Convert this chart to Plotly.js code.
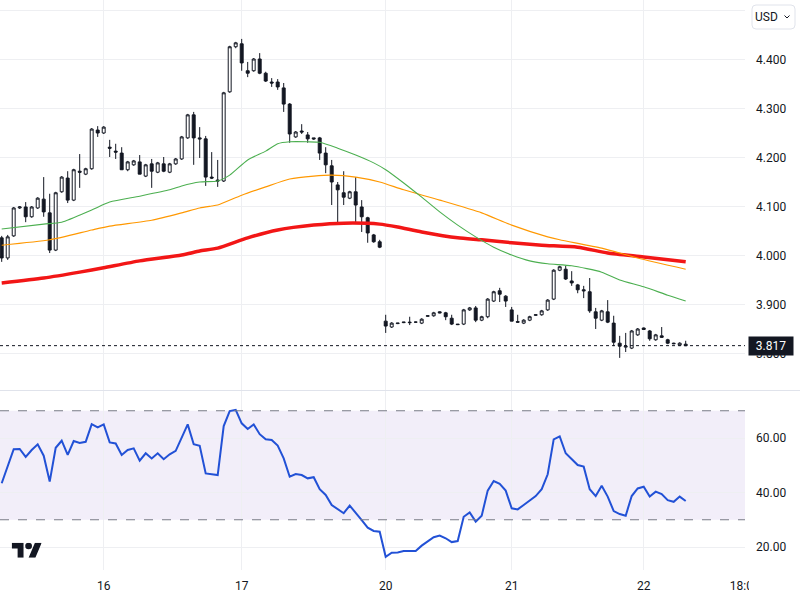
<!DOCTYPE html>
<html><head><meta charset="utf-8">
<script src="https://cdn.plot.ly/plotly-3.0.1.min.js"></script>
<style>html,body{margin:0;padding:0;background:#fff}#chart{width:800px;height:600px}</style>
</head><body><div id="chart"></div>
<script>
// ---- DATA (hourly bars) ----
const barOpen = [4.037,3.996,4.041,4.098,4.100,4.080,4.098,4.116,4.088,4.012,
4.131,4.159,4.114,4.173,4.167,4.178,4.257,4.251,4.222,4.214,
4.210,4.176,4.186,4.192,4.163,4.188,4.171,4.188,4.171,4.188,
4.198,4.241,4.288,4.241,4.239,4.161,4.155,4.153,4.335,4.427,
4.433,4.378,4.378,4.402,4.373,4.355,4.355,4.343,4.310,4.243,
4.255,4.247,4.241,4.241,4.210,4.184,4.145,4.129,4.118,4.131,
4.100,4.078,4.043,4.029,3.867,3.855,3.862,3.864,3.865,3.865,
3.863,3.877,3.878,3.886,3.884,3.873,3.861,3.861,3.890,3.894,
3.869,3.876,3.908,3.929,3.918,3.890,3.866,3.863,3.869,3.879,
3.880,3.890,3.912,3.971,3.973,3.949,3.941,3.931,3.927,3.886,
3.869,3.886,3.863,3.822,3.814,3.812,3.839,3.853,3.847,3.829,
3.837,3.829,3.822,3.818,3.820];
const barHigh = [4.041,4.043,4.100,4.102,4.110,4.102,4.120,4.161,4.127,4.131,
4.163,4.173,4.178,4.208,4.180,4.261,4.265,4.265,4.237,4.229,
4.222,4.194,4.196,4.206,4.188,4.198,4.192,4.202,4.190,4.200,
4.245,4.290,4.294,4.263,4.245,4.212,4.196,4.335,4.429,4.437,
4.443,4.396,4.404,4.414,4.376,4.363,4.361,4.353,4.312,4.255,
4.269,4.253,4.241,4.243,4.222,4.196,4.151,4.173,4.133,4.161,
4.114,4.080,4.045,4.033,3.880,3.865,3.863,3.865,3.876,3.866,
3.873,3.878,3.886,3.887,3.886,3.880,3.861,3.892,3.896,3.898,
3.878,3.914,3.929,3.935,3.920,3.896,3.880,3.871,3.878,3.880,
3.890,3.912,3.973,3.980,3.980,3.969,3.943,3.939,3.955,3.894,
3.890,3.910,3.878,3.837,3.843,3.849,3.853,3.854,3.849,3.841,
3.855,3.831,3.823,3.824,3.827];
const barLow = [3.988,3.992,4.039,4.096,4.069,4.078,4.096,4.080,4.006,4.010,
4.129,4.108,4.112,4.139,4.165,4.176,4.243,4.249,4.202,4.198,
4.176,4.173,4.184,4.167,4.161,4.139,4.169,4.171,4.169,4.186,
4.196,4.239,4.186,4.200,4.143,4.157,4.141,4.151,4.333,4.424,
4.378,4.365,4.376,4.371,4.355,4.345,4.339,4.294,4.231,4.241,
4.249,4.231,4.237,4.196,4.169,4.104,4.065,4.104,4.116,4.067,
4.049,4.027,4.027,4.016,3.843,3.853,3.861,3.863,3.859,3.864,
3.861,3.876,3.876,3.883,3.869,3.859,3.859,3.859,3.888,3.865,
3.867,3.873,3.906,3.906,3.896,3.867,3.864,3.861,3.867,3.878,
3.878,3.888,3.910,3.969,3.951,3.939,3.924,3.914,3.884,3.851,
3.867,3.863,3.816,3.792,3.804,3.810,3.837,3.849,3.827,3.827,
3.833,3.820,3.820,3.816,3.816];
const barClose = [3.996,4.039,4.098,4.100,4.080,4.100,4.118,4.090,4.012,4.129,
4.161,4.114,4.176,4.171,4.178,4.259,4.251,4.263,4.220,4.212,
4.176,4.192,4.194,4.167,4.186,4.173,4.190,4.173,4.188,4.198,
4.243,4.288,4.241,4.239,4.161,4.159,4.153,4.333,4.427,4.435,
4.394,4.373,4.402,4.373,4.357,4.353,4.345,4.310,4.249,4.253,
4.253,4.239,4.239,4.210,4.186,4.151,4.135,4.120,4.131,4.104,
4.080,4.047,4.029,4.018,3.857,3.863,3.863,3.865,3.864,3.865,
3.871,3.878,3.884,3.884,3.876,3.861,3.860,3.890,3.894,3.869,
3.876,3.912,3.927,3.922,3.908,3.867,3.865,3.869,3.876,3.880,
3.888,3.910,3.971,3.978,3.953,3.945,3.931,3.929,3.888,3.873,
3.888,3.865,3.824,3.816,3.816,3.847,3.851,3.850,3.831,3.839,
3.834,3.822,3.821,3.822,3.817];
const rsiValues = [43.4,49.5,55.9,56.0,53.1,55.6,57.7,53.5,44.0,56.4,
59.0,53.8,58.9,58.2,58.6,65.1,63.9,65.0,58.4,58.0,
53.8,55.6,56.2,51.7,54.4,52.5,54.4,52.2,54.0,55.3,
60.5,65.0,57.7,57.1,47.0,46.7,46.4,64.4,69.9,70.3,
65.4,63.3,65.0,61.4,59.5,59.3,57.2,52.5,45.8,46.8,
46.4,45.2,45.6,41.2,39.1,35.4,33.9,32.4,35.2,32.7,
29.9,27.1,25.9,25.6,16.4,17.9,18.0,18.5,18.5,18.5,
20.5,22.0,23.6,24.2,23.2,21.8,22.2,31.1,32.7,29.3,
31.5,40.7,44.2,43.2,40.7,34.2,33.8,35.4,37.1,38.7,
41.2,46.7,59.5,60.6,54.4,52.3,50.1,49.5,41.2,38.7,
42.5,38.5,33.2,32.1,31.5,38.7,41.5,42.1,38.5,40.3,
39.4,37.2,36.6,38.5,36.9];
// moving averages (bar index, value) read at selected bars
const greenBars = [0,7,10,15,18,23,28,30,33,36,38,41,44,46,48,51,53,56,59,62,64,67,70,73,76,79,82,85,88,91,95,100,103,107,111,114];
const greenMA = [4.055,4.065,4.069,4.094,4.110,4.122,4.135,4.143,4.151,4.153,4.165,4.196,4.214,4.229,4.233,4.233,4.232,4.220,4.206,4.190,4.176,4.149,4.120,4.090,4.063,4.039,4.018,4.002,3.990,3.984,3.980,3.967,3.951,3.937,3.920,3.908];
const orangeBars = [0,8,15,18,25,30,33,35,36,40,44,48,52,55,59,63,67,73,80,85,91,93,100,106,114];
const orangeMA = [4.022,4.033,4.053,4.061,4.073,4.088,4.098,4.102,4.104,4.124,4.141,4.157,4.163,4.165,4.161,4.151,4.135,4.114,4.088,4.063,4.039,4.033,4.016,3.996,3.973];
const redBars = [0,7,13,17,23,30,33,36,41,46,52,57,63,66,70,76,80,85,90,96,101,107,114];
const redMA = [3.945,3.955,3.967,3.976,3.990,4.002,4.010,4.016,4.037,4.053,4.063,4.067,4.065,4.059,4.049,4.037,4.033,4.027,4.022,4.018,4.006,3.998,3.988];
// axis ticks
const dayTickBars = [17,40,64,85,107,123.85];
const dayTickLabels = ['16','17','20','21','22','18:00'];
const priceTicks = [3.8,3.9,4.0,4.1,4.2,4.3,4.4,4.5];
const priceTickLabels = ['3.800','3.900','4.000','4.100','4.200','4.300','4.400',''];
const rsiTicks = [20,40,60];
const rsiTickLabels = ['20.00','40.00','60.00'];
const lastPrice = 3.817;
const rsiUpper = 70, rsiLower = 30;

// ---- LAYOUT HELPERS ----
const bars = barOpen.map((_, i) => i);
const W = 745, H = 570;
const PX = x => x / W;
const PY = y => (H - y) / H;
const GRID = '#EEEFF2';
const INK = '#131722';
const xRange = [-0.283, 123.883];

const traces = [
  {type:'scatter', mode:'lines', x:redBars, y:redMA, xaxis:'x', yaxis:'y',
   line:{color:'#F21616', width:3.5, shape:'spline', smoothing:0.6}, hoverinfo:'skip'},
  {type:'scatter', mode:'lines', x:orangeBars, y:orangeMA, xaxis:'x', yaxis:'y',
   line:{color:'#FF9800', width:1.1, shape:'spline', smoothing:0.6}, hoverinfo:'skip'},
  {type:'scatter', mode:'lines', x:greenBars, y:greenMA, xaxis:'x', yaxis:'y',
   line:{color:'#4CAF50', width:1.1, shape:'spline', smoothing:0.6}, hoverinfo:'skip'},
  {type:'candlestick', x:bars, open:barOpen, high:barHigh, low:barLow, close:barClose,
   xaxis:'x', yaxis:'y', whiskerwidth:0,
   increasing:{line:{color:INK, width:1}, fillcolor:'#FFFFFF'},
   decreasing:{line:{color:INK, width:1}, fillcolor:INK}, hoverinfo:'skip'},
  {type:'scatter', mode:'lines', x:bars, y:rsiValues, xaxis:'x2', yaxis:'y2',
   line:{color:'#2251D6', width:2}, hoverinfo:'skip'}
];

const svgLogo = '<svg xmlns="http://www.w3.org/2000/svg" viewBox="0 4 35.5 18" width="30" height="15" preserveAspectRatio="none"><path fill="#131722" d="M14 22H7V11H0V4h14v18zM28 22h-8l7.5-18h8L28 22z"/><circle fill="#131722" cx="20" cy="8" r="4"/></svg>';

function roundRect(x0, y0, x1, y1, r) {
  return 'M' + PX(x0 + r) + ',' + PY(y0) + ' L' + PX(x1 - r) + ',' + PY(y0) +
    ' Q' + PX(x1) + ',' + PY(y0) + ' ' + PX(x1) + ',' + PY(y0 + r) +
    ' L' + PX(x1) + ',' + PY(y1 - r) + ' Q' + PX(x1) + ',' + PY(y1) + ' ' + PX(x1 - r) + ',' + PY(y1) +
    ' L' + PX(x0 + r) + ',' + PY(y1) + ' Q' + PX(x0) + ',' + PY(y1) + ' ' + PX(x0) + ',' + PY(y1 - r) +
    ' L' + PX(x0) + ',' + PY(y0 + r) + ' Q' + PX(x0) + ',' + PY(y0) + ' ' + PX(x0 + r) + ',' + PY(y0) + ' Z';
}

const layout = {
  width:800, height:600,
  margin:{l:0, r:55, t:0, b:30},
  paper_bgcolor:'#FFFFFF', plot_bgcolor:'#FFFFFF',
  showlegend:false, hovermode:false,
  font:{family:'Roboto, "Noto Sans", sans-serif', size:12, color:INK},
  xaxis:{domain:[0,1], anchor:'y', range:xRange, tickvals:dayTickBars, showticklabels:false,
    showgrid:true, gridcolor:GRID, zeroline:false, showline:false, ticks:'', rangeslider:{visible:false}, fixedrange:true},
  xaxis2:{domain:[0,1], anchor:'y2', matches:'x', range:xRange, tickvals:dayTickBars, ticktext:dayTickLabels,
    showgrid:true, gridcolor:GRID, zeroline:false, showline:false, ticks:'', ticklabelstandoff:7,
    tickfont:{size:12, color:INK}, fixedrange:true},
  yaxis:{domain:[PY(390),1], anchor:'x', range:[3.7265,4.5224], side:'right', tickvals:priceTicks, ticktext:priceTickLabels,
    showgrid:true, gridcolor:GRID, zeroline:false, showline:false, ticks:'', ticklabelstandoff:10,
    tickfont:{size:12, color:INK}, fixedrange:true},
  yaxis2:{domain:[0,PY(391)], anchor:'x2', range:[11.56,77.25], side:'right', tickvals:rsiTicks, ticktext:rsiTickLabels,
    showgrid:true, gridcolor:GRID, zeroline:false, showline:false, ticks:'', ticklabelstandoff:10,
    tickfont:{size:12, color:INK}, fixedrange:true},
  shapes:[
    {type:'rect', xref:'paper', yref:'y2', x0:0, x1:1, y0:rsiLower, y1:rsiUpper,
     fillcolor:'rgba(126,87,194,0.10)', line:{width:0}, layer:'below'},
    {type:'line', xref:'paper', yref:'y2', x0:0, x1:1, y0:rsiUpper, y1:rsiUpper, line:{color:'#787B86', width:1, dash:'dash'}},
    {type:'line', xref:'paper', yref:'y2', x0:0, x1:1, y0:rsiLower, y1:rsiLower, line:{color:'#787B86', width:1, dash:'dash'}},
    {type:'line', xref:'paper', yref:'y', x0:0, x1:1, y0:lastPrice, y1:lastPrice, line:{color:INK, width:1, dash:'dot'}},
    {type:'line', xref:'paper', yref:'paper', x0:0, x1:PX(800), y0:PY(390.5), y1:PY(390.5), line:{color:'#E0E3EB', width:1}},
    {type:'rect', xref:'paper', yref:'paper', x0:PX(749), x1:PX(800), y0:PY(600), y1:PY(572), fillcolor:'#FFFFFF', line:{width:0}, layer:'above'},
    {type:'path', xref:'paper', yref:'paper', path:roundRect(752, 5, 795, 29, 4), fillcolor:'#FFFFFF', line:{color:'#E0E3EB', width:1}, layer:'above'},
    {type:'path', xref:'paper', yref:'paper', path:'M'+PX(784.5)+','+PY(15.5)+' L'+PX(787)+','+PY(18)+' L'+PX(789.5)+','+PY(15.5),
     line:{color:INK, width:1}, layer:'above'}
  ],
  annotations:[
    {xref:'paper', yref:'paper', x:PX(767), y:PY(17), text:'USD', showarrow:false, xanchor:'center', yanchor:'middle',
     font:{size:12, color:INK}},
    {xref:'paper', yref:'y', x:1, y:lastPrice, text:'3.817', showarrow:false, xanchor:'left', yanchor:'middle', xshift:3,
     bgcolor:INK, font:{size:12, color:'#FFFFFF'}, borderpad:2, width:40, height:14, align:'center'}
  ],
  images:[
    {source:'data:image/svg+xml;charset=utf-8,' + encodeURIComponent(svgLogo), xref:'paper', yref:'paper',
     x:PX(11.7), y:PY(542.7), sizex:30/W, sizey:15/H, xanchor:'left', yanchor:'top', sizing:'stretch', layer:'above'}
  ]
};

Plotly.newPlot('chart', traces, layout, {displayModeBar:false, staticPlot:true});
</script></body></html>
